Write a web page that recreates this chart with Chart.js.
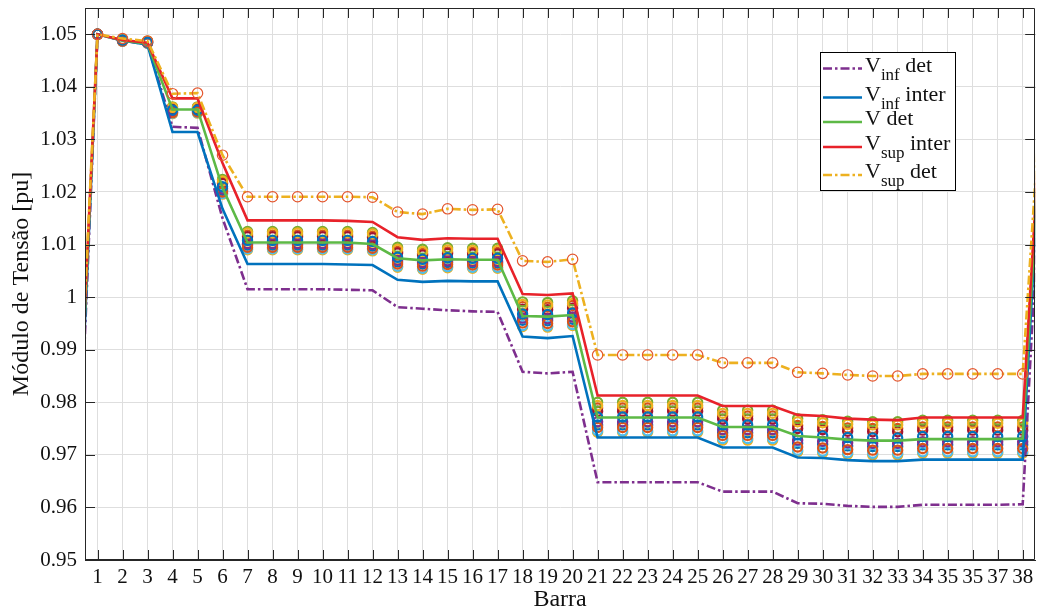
<!DOCTYPE html>
<html>
<head>
<meta charset="utf-8">
<script src="https://cdn.jsdelivr.net/npm/chart.js@4/dist/chart.umd.min.js"></script>
<style>
  html, body { margin: 0; padding: 0; background: #ffffff; }
  #wrap { width: 1042px; height: 613px; }
</style>
</head>
<body>
<div id="wrap"><canvas id="chart" width="1042" height="613"></canvas></div>
<script>
// Bus numbers for the profile lines (0 and 39 lie just outside the visible range)
const buses = [0,1,2,3,4,5,6,7,8,9,10,11,12,13,14,15,16,17,18,19,20,
               21,22,23,24,25,26,27,28,29,30,31,32,33,34,35,36,37,38,39];
// Bus numbers for the sampled operating points
const sampleBuses = [1,2,3,4,5,6,7,8,9,10,11,12,13,14,15,16,17,18,19,20,
                     21,22,23,24,25,26,27,28,29,30,31,32,33,34,35,36,37,38];

const xTickValues = [1,2,3,4,5,6,7,8,9,10,11,12,13,14,15,16,17,18,19,20,
                     21,22,23,24,25,26,27,28,29,30,31,32,33,34,35,36,37,38];
const xTickLabels = ['1','2','3','4','5','6','7','8','9','10','11','12','13','14','15','16','17','18','19','20',
                     '21','22','23','24','25','26','27','28','29','30','31','32','33','34','35','35','37','38'];
const yTickValues = [0.95,0.96,0.97,0.98,0.99,1.00,1.01,1.02,1.03,1.04,1.05];
const yTickLabels = ['0.95','0.96','0.97','0.98','0.99','1','1.01','1.02','1.03','1.04','1.05'];

// Voltage envelopes [pu], buses 0..39
const vInfDet = [0.9364,1.0500,1.0488,1.0481,1.0324,1.0322,1.0150,1.0015,1.0015,1.0015,
                 1.0015,1.0014,1.0013,0.9981,0.9978,0.9975,0.9973,0.9972,0.9858,0.9855,
                 0.9858,0.9648,0.9648,0.9648,0.9648,0.9648,0.9630,0.9630,0.9630,0.9608,
                 0.9607,0.9603,0.9601,0.9601,0.9605,0.9605,0.9605,0.9605,0.9606,1.0500];
const vInfInter = [0.9406,1.0500,1.0488,1.0480,1.0314,1.0314,1.0168,1.0063,1.0063,1.0063,
                   1.0063,1.0062,1.0061,1.0033,1.0029,1.0031,1.0030,1.0030,0.9925,0.9922,
                   0.9926,0.9733,0.9733,0.9733,0.9733,0.9733,0.9714,0.9714,0.9714,0.9695,
                   0.9694,0.9690,0.9688,0.9688,0.9691,0.9691,0.9691,0.9691,0.9691,1.0540];
const vDet = [0.9444,1.0500,1.0488,1.0482,1.0357,1.0357,1.0208,1.0104,1.0104,1.0104,
              1.0104,1.0104,1.0101,1.0074,1.0070,1.0072,1.0071,1.0071,0.9964,0.9963,
              0.9966,0.9771,0.9771,0.9771,0.9771,0.9771,0.9753,0.9753,0.9753,0.9736,
              0.9733,0.9729,0.9727,0.9727,0.9730,0.9730,0.9730,0.9730,0.9731,1.0550];
const vSupInter = [0.9478,1.0500,1.0489,1.0484,1.0378,1.0378,1.0255,1.0146,1.0146,1.0146,
                   1.0146,1.0145,1.0143,1.0114,1.0109,1.0112,1.0111,1.0111,1.0006,1.0004,
                   1.0007,0.9813,0.9813,0.9813,0.9813,0.9813,0.9793,0.9793,0.9793,0.9776,
                   0.9774,0.9769,0.9767,0.9766,0.9771,0.9771,0.9771,0.9771,0.9771,1.0570];
const vSupDet = [0.9508,1.0500,1.0492,1.0487,1.0387,1.0388,1.0270,1.0191,1.0191,1.0191,
                 1.0191,1.0191,1.0190,1.0162,1.0158,1.0168,1.0166,1.0167,1.0069,1.0067,
                 1.0072,0.9890,0.9890,0.9890,0.9890,0.9890,0.9875,0.9875,0.9875,0.9857,
                 0.9855,0.9852,0.9850,0.9850,0.9854,0.9854,0.9854,0.9854,0.9854,1.0580];

// Sampled operating points [pu], buses 1..38
const sample1 = [1.0500,1.0489,1.0485,1.0356,1.0356,1.0210,1.0108,1.0108,1.0108,1.0108,
                 1.0108,1.0106,1.0076,1.0072,1.0075,1.0074,1.0074,0.9968,0.9967,0.9970,
                 0.9772,0.9772,0.9772,0.9772,0.9772,0.9757,0.9757,0.9757,0.9738,0.9736,
                 0.9733,0.9732,0.9732,0.9735,0.9735,0.9735,0.9735,0.9735];
const sample2 = [1.0500,1.0487,1.0484,1.0351,1.0352,1.0200,1.0095,1.0095,1.0095,1.0095,
                 1.0095,1.0093,1.0063,1.0059,1.0062,1.0061,1.0061,0.9951,0.9950,0.9953,
                 0.9752,0.9752,0.9752,0.9752,0.9752,0.9737,0.9737,0.9737,0.9715,0.9713,
                 0.9710,0.9709,0.9709,0.9712,0.9712,0.9712,0.9712,0.9712];
const sample3 = [1.0500,1.0490,1.0487,1.0361,1.0361,1.0221,1.0122,1.0122,1.0122,1.0122,
                 1.0122,1.0120,1.0091,1.0087,1.0090,1.0089,1.0089,0.9986,0.9985,0.9988,
                 0.9794,0.9794,0.9794,0.9794,0.9794,0.9779,0.9779,0.9779,0.9763,0.9761,
                 0.9758,0.9757,0.9757,0.9760,0.9760,0.9760,0.9760,0.9760];
const sample4 = [1.0500,1.0488,1.0484,1.0354,1.0354,1.0206,1.0102,1.0102,1.0102,1.0102,
                 1.0102,1.0100,1.0070,1.0066,1.0069,1.0068,1.0068,0.9960,0.9959,0.9962,
                 0.9763,0.9763,0.9763,0.9763,0.9763,0.9748,0.9748,0.9748,0.9728,0.9726,
                 0.9723,0.9722,0.9722,0.9725,0.9725,0.9725,0.9725,0.9725];
const sample5 = [1.0500,1.0490,1.0487,1.0362,1.0362,1.0224,1.0125,1.0125,1.0125,1.0125,
                 1.0125,1.0123,1.0095,1.0091,1.0094,1.0093,1.0093,0.9991,0.9990,0.9993,
                 0.9800,0.9800,0.9800,0.9800,0.9800,0.9785,0.9785,0.9785,0.9769,0.9767,
                 0.9764,0.9763,0.9763,0.9766,0.9766,0.9766,0.9766,0.9766];
const sample6 = [1.0500,1.0487,1.0483,1.0350,1.0351,1.0197,1.0092,1.0092,1.0092,1.0092,
                 1.0092,1.0090,1.0059,1.0055,1.0058,1.0057,1.0057,0.9946,0.9945,0.9948,
                 0.9746,0.9746,0.9746,0.9746,0.9746,0.9731,0.9731,0.9731,0.9709,0.9707,
                 0.9704,0.9703,0.9703,0.9706,0.9706,0.9706,0.9706,0.9706];
const sample7 = [1.0500,1.0489,1.0486,1.0358,1.0358,1.0216,1.0115,1.0115,1.0115,1.0115,
                 1.0115,1.0113,1.0084,1.0080,1.0083,1.0082,1.0082,0.9977,0.9976,0.9979,
                 0.9783,0.9783,0.9783,0.9783,0.9783,0.9768,0.9768,0.9768,0.9750,0.9748,
                 0.9745,0.9744,0.9744,0.9747,0.9747,0.9747,0.9747,0.9747];
const sample8 = [1.0500,1.0488,1.0484,1.0352,1.0353,1.0203,1.0099,1.0099,1.0099,1.0099,
                 1.0099,1.0097,1.0067,1.0063,1.0066,1.0065,1.0065,0.9956,0.9955,0.9958,
                 0.9757,0.9757,0.9757,0.9757,0.9757,0.9742,0.9742,0.9742,0.9722,0.9720,
                 0.9717,0.9716,0.9716,0.9719,0.9719,0.9719,0.9719,0.9719];
const sample9 = [1.0500,1.0489,1.0486,1.0359,1.0360,1.0218,1.0118,1.0118,1.0118,1.0118,
                 1.0118,1.0116,1.0087,1.0083,1.0086,1.0085,1.0085,0.9982,0.9981,0.9984,
                 0.9789,0.9789,0.9789,0.9789,0.9789,0.9774,0.9774,0.9774,0.9756,0.9754,
                 0.9751,0.9750,0.9750,0.9753,0.9753,0.9753,0.9753,0.9753];
const sample10 = [1.0500,1.0487,1.0483,1.0349,1.0350,1.0196,1.0090,1.0090,1.0090,1.0090,
                  1.0090,1.0088,1.0057,1.0053,1.0056,1.0055,1.0055,0.9944,0.9943,0.9946,
                  0.9743,0.9743,0.9743,0.9743,0.9743,0.9728,0.9728,0.9728,0.9706,0.9704,
                  0.9701,0.9700,0.9700,0.9703,0.9703,0.9703,0.9703,0.9703];

const samples = [sample1, sample2, sample3, sample4, sample5, sample6, sample7, sample8, sample9, sample10];
const sampleColors = ['#0072BD','#D95319','#EDB120','#7E2F8E','#77AC30','#4DBEEE','#A2142F'];

const COL = {
  infDet: '#7E2F8E',
  infInter: '#0072BD',
  det: '#5DB946',
  supInter: '#E8222A',
  supDet: '#EDB120',
  supMarker: '#E4572E',
  axis: '#262626',
  grid: '#dedede'
};
const DASH_DOT = [9, 3, 2.5, 3];
const SERIF = "'Liberation Serif', 'DejaVu Serif', serif";

// Legend entries: base letter, subscript, trailing text
const legendMain = ['V', 'V', 'V', 'V', 'V'];
const legendSub = ['inf', 'inf', '', 'sup', 'sup'];
const legendRest = ['det', 'inter', 'det', 'inter', 'det'];
const legendColors = [COL.infDet, COL.infInter, COL.det, COL.supInter, COL.supDet];
const legendDashed = [true, false, false, false, true];

const pts = (xs, ys) => ys.map((y, i) => ({ x: xs[i], y: y }));

const lineDataset = (label, values, color, dashed) => ({
  label: label,
  data: pts(buses, values),
  borderColor: color,
  borderWidth: 2.6,
  borderDash: dashed ? DASH_DOT : [],
  pointRadius: 0,
  fill: false,
  tension: 0
});

const datasets = [];
const supDetSet = lineDataset('V sup det', vSupDet, COL.supDet, true);
supDetSet.pointRadius = 5.2;
supDetSet.pointBorderWidth = 1.2;
supDetSet.pointBorderColor = COL.supMarker;
supDetSet.pointBackgroundColor = 'rgba(0,0,0,0)';
datasets.push(supDetSet);
datasets.push(lineDataset('V sup inter', vSupInter, COL.supInter, false));
datasets.push(lineDataset('V det', vDet, COL.det, false));
datasets.push(lineDataset('V inf inter', vInfInter, COL.infInter, false));
datasets.push(lineDataset('V inf det', vInfDet, COL.infDet, true));
samples.forEach((s, k) => {
  datasets.push({
    label: 'amostra ' + (k + 1),
    data: pts(sampleBuses, s),
    showLine: false,
    pointRadius: 4.6,
    pointBorderWidth: 2.2,
    pointBorderColor: sampleColors[k % sampleColors.length],
    pointBackgroundColor: 'rgba(0,0,0,0)'
  });
});

// Box, inward ticks, axis titles and legend
const decorations = {
  id: 'decorations',
  afterDraw(chart) {
    const ctx = chart.ctx;
    const a = chart.chartArea;
    const xs = chart.scales.x, ys = chart.scales.y;
    ctx.save();
    ctx.strokeStyle = COL.axis;
    ctx.lineWidth = 1;
    ctx.beginPath();
    ctx.rect(Math.round(a.left) + 0.5, Math.round(a.top) + 0.5,
             Math.round(a.right - a.left) - 1, Math.round(a.bottom - a.top) - 1);
    ctx.stroke();
    const TL = 10;
    ctx.beginPath();
    xTickValues.forEach(v => {
      const px = Math.round(xs.getPixelForValue(v)) + 0.5;
      ctx.moveTo(px, a.bottom); ctx.lineTo(px, a.bottom - TL);
      ctx.moveTo(px, a.top); ctx.lineTo(px, a.top + TL);
    });
    yTickValues.forEach(v => {
      const py = Math.round(ys.getPixelForValue(v)) + 0.5;
      ctx.moveTo(a.left, py); ctx.lineTo(a.left + TL, py);
      ctx.moveTo(a.right, py); ctx.lineTo(a.right - TL, py);
    });
    ctx.stroke();

    // axis titles
    ctx.fillStyle = '#111';
    ctx.font = '24px ' + SERIF;
    ctx.textAlign = 'center';
    ctx.textBaseline = 'middle';
    ctx.fillText('Barra', (a.left + a.right) / 2, 600);
    ctx.save();
    ctx.translate(22, (a.top + a.bottom) / 2);
    ctx.rotate(-Math.PI / 2);
    ctx.fillText('Módulo de Tensão [pu]', 0, 0);
    ctx.restore();

    // legend
    const bx = 820.5, by = 52.5, bw = 135, bh = 138;
    ctx.fillStyle = '#ffffff';
    ctx.fillRect(bx, by, bw, bh);
    ctx.strokeStyle = '#000000';
    ctx.lineWidth = 1;
    ctx.strokeRect(bx, by, bw, bh);
    const rowY = [68.5, 97.5, 122, 147, 175];
    ctx.textAlign = 'left';
    ctx.textBaseline = 'alphabetic';
    rowY.forEach((y, i) => {
      ctx.strokeStyle = legendColors[i];
      ctx.lineWidth = 2.6;
      ctx.setLineDash(legendDashed[i] ? DASH_DOT : []);
      ctx.beginPath();
      ctx.moveTo(823, y); ctx.lineTo(862, y);
      ctx.stroke();
      ctx.setLineDash([]);
      ctx.fillStyle = '#111';
      let x = 865;
      const base = y + 3;
      ctx.font = '22px ' + SERIF;
      ctx.fillText(legendMain[i], x, base);
      x += ctx.measureText(legendMain[i]).width;
      if (legendSub[i]) {
        ctx.font = '17px ' + SERIF;
        ctx.fillText(legendSub[i], x, base + 8);
        x += ctx.measureText(legendSub[i]).width;
      }
      ctx.font = '22px ' + SERIF;
      x += ctx.measureText(' ').width;
      ctx.fillText(legendRest[i], x, base);
    });
    ctx.restore();
  }
};

new Chart(document.getElementById('chart'), {
  type: 'line',
  data: { datasets: datasets },
  options: {
    responsive: false,
    animation: false,
    devicePixelRatio: 1,
    layout: { padding: { top: 8, right: 5, left: 0, bottom: 0 } },
    plugins: { legend: { display: false }, tooltip: { enabled: false } },
    scales: {
      x: {
        type: 'linear',
        min: 0.5,
        max: 38.5,
        afterBuildTicks: axis => { axis.ticks = xTickValues.map(v => ({ value: v })); },
        afterFit: s => { s.height = 53; s.paddingLeft = 0; s.paddingRight = 0; },
        ticks: {
          autoSkip: false,
          maxRotation: 0,
          minRotation: 0,
          padding: 5,
          color: '#111',
          font: { family: SERIF, size: 21 },
          callback: (v, i) => xTickLabels[i]
        },
        grid: { color: COL.grid, lineWidth: 1, drawTicks: false },
        border: { color: COL.axis, width: 1 }
      },
      y: {
        type: 'linear',
        min: 0.95,
        max: 1.055,
        afterBuildTicks: axis => { axis.ticks = yTickValues.map(v => ({ value: v })); },
        afterFit: s => { s.width = 85; s.paddingTop = 0; s.paddingBottom = 0; },
        ticks: {
          padding: 8,
          color: '#111',
          font: { family: SERIF, size: 21 },
          callback: (v, i) => yTickLabels[i]
        },
        grid: { color: COL.grid, lineWidth: 1, drawTicks: false },
        border: { color: COL.axis, width: 1 }
      }
    }
  },
  plugins: [decorations]
});
</script>
</body>
</html>
